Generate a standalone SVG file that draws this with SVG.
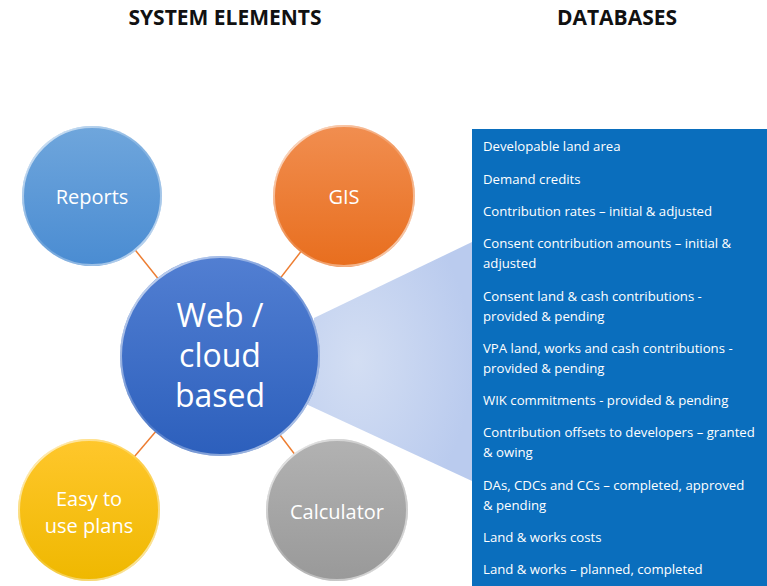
<svg xmlns="http://www.w3.org/2000/svg" width="767" height="586" viewBox="0 0 767 586">
<defs>
<style>
.hdr{font-family:"Open Sans","Liberation Sans",sans-serif;font-weight:bold;font-size:21px;fill:#111}
.ct{font-family:"Open Sans","Liberation Sans",sans-serif;fill:#fff;text-anchor:middle}
.db{font-family:"Open Sans","Liberation Sans",sans-serif;font-size:13.2px;fill:#fff}
.conn{stroke:#ed7d31;stroke-width:1.5}
.rim{fill:none;stroke:url(#rimg);stroke-width:2}
</style>
<linearGradient id="gRep" x1="0" y1="0" x2="0" y2="1"><stop offset="0" stop-color="#6fa6dc"/><stop offset="1" stop-color="#4a8cd2"/></linearGradient>
<linearGradient id="gGis" x1="0" y1="0" x2="0" y2="1"><stop offset="0" stop-color="#f18e50"/><stop offset="1" stop-color="#e86e1e"/></linearGradient>
<linearGradient id="gWeb" x1="0" y1="0" x2="0" y2="1"><stop offset="0" stop-color="#527fd2"/><stop offset="1" stop-color="#2c5fbc"/></linearGradient>
<linearGradient id="gEasy" x1="0" y1="0" x2="0" y2="1"><stop offset="0" stop-color="#ffc72c"/><stop offset="1" stop-color="#efb800"/></linearGradient>
<linearGradient id="gCalc" x1="0" y1="0" x2="0" y2="1"><stop offset="0" stop-color="#b2b2b2"/><stop offset="1" stop-color="#999"/></linearGradient>
<linearGradient id="rimg" x1="0" y1="0" x2="1" y2="1"><stop offset="0" stop-color="#fff" stop-opacity="0.8"/><stop offset="0.5" stop-color="#fff" stop-opacity="0.15"/><stop offset="1" stop-color="#fff" stop-opacity="0.75"/></linearGradient>
<radialGradient id="beam" cx="0.3" cy="0.5" r="0.7"><stop offset="0" stop-color="#d3def3"/><stop offset="1" stop-color="#bacbee"/></radialGradient>
</defs>
<rect width="767" height="586" fill="#fff"/>
<text class="hdr" x="225" y="25" text-anchor="middle">SYSTEM ELEMENTS</text>
<text class="hdr" x="617" y="25" text-anchor="middle">DATABASES</text>
<g id="connectors">
<line class="conn" x1="92" y1="196" x2="220" y2="356"/>
<line class="conn" x1="344" y1="196" x2="220" y2="356"/>
<line class="conn" x1="89" y1="510" x2="220" y2="356"/>
<line class="conn" x1="337" y1="510" x2="220" y2="356"/>
<polygon points="314,318 472,242 472,481 308,405" fill="url(#beam)"/>
</g>
<g id="databases">
<rect x="472" y="129" width="295" height="457" fill="#0a6ebd"/>
<text class="db" x="483" y="151">Developable land area</text>
<text class="db" x="483" y="184">Demand credits</text>
<text class="db" x="483" y="216">Contribution rates – initial &amp; adjusted</text>
<text class="db" x="483" y="248">Consent contribution amounts – initial &amp;</text>
<text class="db" x="483" y="268">adjusted</text>
<text class="db" x="483" y="301">Consent land &amp; cash contributions -</text>
<text class="db" x="483" y="321">provided &amp; pending</text>
<text class="db" x="483" y="353">VPA land, works and cash contributions -</text>
<text class="db" x="483" y="373">provided &amp; pending</text>
<text class="db" x="483" y="405">WIK commitments - provided &amp; pending</text>
<text class="db" x="483" y="437">Contribution offsets to developers – granted</text>
<text class="db" x="483" y="457">&amp; owing</text>
<text class="db" x="483" y="490">DAs, CDCs and CCs – completed, approved</text>
<text class="db" x="483" y="510">&amp; pending</text>
<text class="db" x="483" y="542">Land &amp; works costs</text>
<text class="db" x="483" y="574">Land &amp; works – planned, completed</text>
</g>
<g id="reports">
<circle cx="92" cy="196" r="70" fill="url(#gRep)"/>
<circle class="rim" cx="92" cy="196" r="69"/>
<text class="ct" x="92" y="204" font-size="20">Reports</text>
</g>
<g id="gis">
<circle cx="344" cy="196" r="71" fill="url(#gGis)"/>
<circle class="rim" cx="344" cy="196" r="70"/>
<text class="ct" x="344" y="204" font-size="20">GIS</text>
</g>
<g id="web">
<circle cx="220" cy="356" r="100" fill="url(#gWeb)"/>
<circle class="rim" cx="220" cy="356" r="99"/>
<text class="ct" x="220" y="327" font-size="32">Web /</text>
<text class="ct" x="220" y="367" font-size="32">cloud</text>
<text class="ct" x="220" y="407" font-size="32">based</text>
</g>
<g id="easy">
<circle cx="89" cy="510" r="71" fill="url(#gEasy)"/>
<circle class="rim" cx="89" cy="510" r="70"/>
<text class="ct" x="89" y="506" font-size="20">Easy to</text>
<text class="ct" x="89" y="533" font-size="20">use plans</text>
</g>
<g id="calculator">
<circle cx="337" cy="510" r="71" fill="url(#gCalc)"/>
<circle class="rim" cx="337" cy="510" r="70"/>
<text class="ct" x="337" y="519" font-size="20">Calculator</text>
</g>
</svg>
